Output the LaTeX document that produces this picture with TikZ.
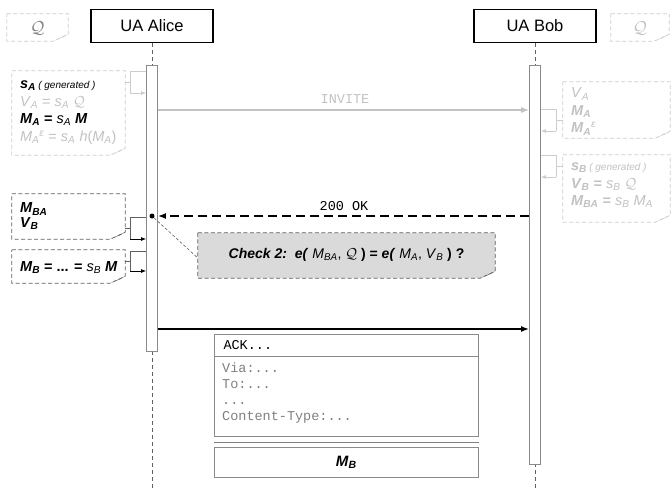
\documentclass[tikz,border=0pt]{standalone}
\usepackage{fontspec}
\setmainfont{Liberation Sans}
\setmonofont{Liberation Mono}
\usetikzlibrary{arrows.meta,fit}
\definecolor{faint}{HTML}{C2C2C2}
\definecolor{faintline}{HTML}{CDCDCD}
\definecolor{bord}{HTML}{8A8A8A}
\definecolor{darkbord}{HTML}{606060}
\definecolor{chkfill}{HTML}{DADADA}
\newcommand\bi[1]{\textbf{\textit{#1}}}
\newcommand\sbs[1]{\textsubscript{#1}}
\newcommand\calQ{$\mathcal{Q}$}
\newcommand\notebox[7]{%
  \coordinate (#1-nw) at (#2,#3);
  \coordinate (#1-se) at (#4,#5);
  \node[fit=(#1-nw)(#1-se), inner sep=0pt] (#1) {};
  \filldraw[draw=#6, fill=#7, dash pattern=on 4pt off 2.5pt, line width=0.7pt]
    (#1.north west) -- (#1.north east) -- ([yshift=7pt]#1.south east)
    -- ([xshift=-15pt]#1.south east) -- (#1.south west) -- cycle;
  \fill[#6] ([yshift=7pt]#1.south east) -- ([xshift=-15pt]#1.south east)
    -- ([xshift=-5pt,yshift=4pt]#1.south east) -- cycle;
}
\begin{document}
\begin{tikzpicture}[x=1pt,y=-1pt,
  ua/.style={draw=black, line width=1.8pt, minimum width=122pt, minimum height=33pt,
    inner sep=0pt, font=\fontsize{16.5}{18}\selectfont},
  actbar/.style={draw=bord, fill=white, line width=0.8pt, minimum width=11pt, inner sep=0pt, anchor=north},
  life/.style={draw=darkbord, line width=0.7pt, dash pattern=on 4pt off 3pt},
  msgtip/.style={-{Latex[length=8pt,width=6pt]}},
  smalltip/.style={-{Latex[length=5pt,width=4pt]}},
  notetxt/.style={anchor=north west, align=left, inner sep=0pt, font=\fontsize{14.5}{17.5}\selectfont},
  mono/.style={font=\ttfamily\fontsize{13.5}{16}\selectfont},
]
\useasboundingbox (0,0) rectangle (671,491);
\clip (0,0) rectangle (671,491);

% participants
\node[ua] (alice) at (152,26) {UA Alice};
\node[ua] (bob) at (535,26) {UA Bob};
\coordinate (aend) at (152,491);
\coordinate (bend) at (535,491);
\draw[life] (alice.south) -- (aend);
\draw[life] (bob.south) -- (bend);
\node[actbar, minimum height=286pt] (abar) at (152,65) {};
\node[actbar, minimum height=399pt] (bbar) at (535,65) {};

% Q notes
\notebox{qL}{7}{14}{68}{41}{faintline}{white}
\node[text=gray, font=\fontsize{18}{18}\selectfont] (qLt) at ([yshift=-1pt]qL.center) {\calQ};
\notebox{qR}{611}{14}{669}{41}{faintline}{white}
\node[text=faint, font=\fontsize{18}{18}\selectfont] (qRt) at ([yshift=-1pt]qR.center) {\calQ};

% note A (left, faint)
\notebox{nA}{12}{71}{125}{155}{faintline}{white}
\node[notetxt] (nAt) at ([xshift=8pt,yshift=-10pt]nA.north west) {%
  \bi{s}\sbs{\bi{A}}\,{\fontsize{10}{10}\selectfont\textit{( generated )}}\\
  \textcolor{faint}{\textit{V}\sbs{\textit{A}} = \textit{s}\sbs{\textit{A}} \calQ}\\
  \bi{M}\sbs{\bi{A}} \textbf{=} \textit{s}\sbs{\textit{A}} \bi{M}\\
  \textcolor{faint}{\textit{M}\sbs{\textit{A}}\textsuperscript{\textit{ε}} = \textit{s}\sbs{\textit{A}} \textit{h}(\textit{M}\sbs{\textit{A}})}};
\coordinate (bA) at (130,82);
\draw[faintline, line width=0.8pt] (abar.west |- 0,71) -| (130,93);
\draw[faintline, line width=0.8pt, smalltip] (130,93) -- (abar.west |- 0,93);
\draw[faintline, line width=0.8pt] (nA.east |- bA) -- (bA);

% INVITE
\coordinate (inv) at (0,110);
\draw[faint, line width=1.3pt, msgtip] (abar.east |- inv) -- (bbar.west |- inv);
\node[mono, text=faint] (invl) at (345,99) {INVITE};

% right notes (faint)
\notebox{nR1}{563}{82}{670}{138}{faintline}{white}
\node[notetxt, text=faint] (nR1t) at ([xshift=8pt,yshift=-6pt]nR1.north west) {%
  \textit{V}\sbs{\textit{A}}\\
  \bi{M}\sbs{\bi{A}}\\
  \bi{M}\sbs{\bi{A}}\textsuperscript{\textit{ε}}};
\draw[faintline, line width=0.8pt] (bbar.east |- 0,109) -| (556,131);
\draw[faintline, line width=0.8pt, smalltip] (556,131) -- (bbar.east |- 0,131);
\draw[faintline, line width=0.8pt] (556,120) -- (nR1.west |- 0,120);

\notebox{nR2}{563}{155}{670}{222}{faintline}{white}
\node[notetxt, text=faint] (nR2t) at ([xshift=8pt,yshift=-8pt]nR2.north west) {%
  \bi{s}\sbs{\bi{B}}\,{\fontsize{10}{10}\selectfont\textit{( generated )}}\\
  \bi{V}\sbs{\bi{B}} \textbf{=} \textit{s}\sbs{\textit{B}} \calQ\\
  \bi{M}\sbs{\bi{BA}} \textbf{=} \textit{s}\sbs{\textit{B}} \textit{M}\sbs{\textit{A}}};
\draw[faintline, line width=0.8pt] (bbar.east |- 0,155) -| (556,177);
\draw[faintline, line width=0.8pt, smalltip] (556,177) -- (bbar.east |- 0,177);
\draw[faintline, line width=0.8pt] (556,166) -- (nR2.west |- 0,166);

% 200 OK
\node[circle, fill=black, inner sep=0pt, minimum size=5pt] (dot) at (152,216) {};
\coordinate (okc) at (0,216);
\draw[black, line width=2pt, dash pattern=on 9pt off 5pt, msgtip] (bbar.west |- okc) -- (abar.east |- okc);
\node[mono, text=black] (okl) at (344,206) {200 OK};

% left notes (dark)
\notebox{nBA}{12}{194}{125}{239}{darkbord}{white}
\node[notetxt, font=\fontsize{14.5}{14.5}\selectfont] (nBAt) at ([xshift=8pt,yshift=-9pt]nBA.north west) {%
  \bi{M}\sbs{\bi{BA}}\\
  \bi{V}\sbs{\bi{B}}};
\draw[darkbord, line width=0.8pt] (abar.west |- 0,217) -| (130,239);
\draw[black, line width=0.8pt, smalltip] (130,239) -- (abar.west |- 0,239);
\draw[darkbord, line width=0.8pt] (nBA.east |- 0,228) -- (130,228);

\notebox{nB}{12}{250}{125}{283}{darkbord}{white}
\node[notetxt, anchor=west] (nBt) at ([xshift=8pt,yshift=-1pt]nB.west) {%
  \bi{M}\sbs{\bi{B}} \textbf{= ... =} \textit{s}\sbs{\textit{B}} \bi{M}};
\draw[darkbord, line width=0.8pt] (abar.west |- 0,251) -| (130,271);
\draw[black, line width=0.8pt, smalltip] (130,271) -- (abar.west |- 0,271);
\draw[darkbord, line width=0.8pt] (nB.east |- 0,261) -- (130,261);

% Check 2 note
\notebox{chk}{198}{233}{495}{278}{darkbord}{chkfill}
\node[font=\fontsize{14}{16}\selectfont] (chkt) at ([yshift=1pt]chk.center) {%
  \bi{Check 2:}\ \ \bi{e(} \textit{M}\sbs{\textit{BA}}, \calQ\ \textbf{) = }\bi{e(} \textit{M}\sbs{\textit{A}}, \textit{V}\sbs{\textit{B}}\ \textbf{) ?}};
\draw[darkbord, line width=0.6pt, dash pattern=on 3pt off 2pt] (dot) -- (chk.west |- 0,258);

% ACK
\coordinate (ackc) at (0,329);
\draw[black, line width=2pt, msgtip] (abar.east |- ackc) -- (bbar.west |- ackc);

\node[draw=bord, line width=0.8pt, inner sep=0pt, minimum width=264pt, minimum height=102pt, anchor=north west] (ack) at (214,334) {};
\coordinate (ackh) at (0,356);
\draw[bord, line width=0.8pt] (ack.west |- ackh) -- (ack.east |- ackh);
\node[mono, anchor=west, text=black] (ackt) at (220,345) {ACK...};
\node[mono, anchor=north west, align=left, text=gray, inner sep=0pt, font=\ttfamily\fontsize{13.5}{16}\selectfont] (ackb) at (222,363) {Via:...\\To:...\\...\\Content-Type:...};
\coordinate (sepc) at (0,442);
\draw[gray, line width=0.9pt] (ack.west |- sepc) -- (ack.east |- sepc);
\node[draw=bord, line width=0.8pt, inner sep=0pt, minimum width=264pt, minimum height=30pt, anchor=north west, font=\fontsize{15}{16}\selectfont] (mb) at (214,447) {\bi{M}\sbs{\bi{B}}};
\end{tikzpicture}
\end{document}
